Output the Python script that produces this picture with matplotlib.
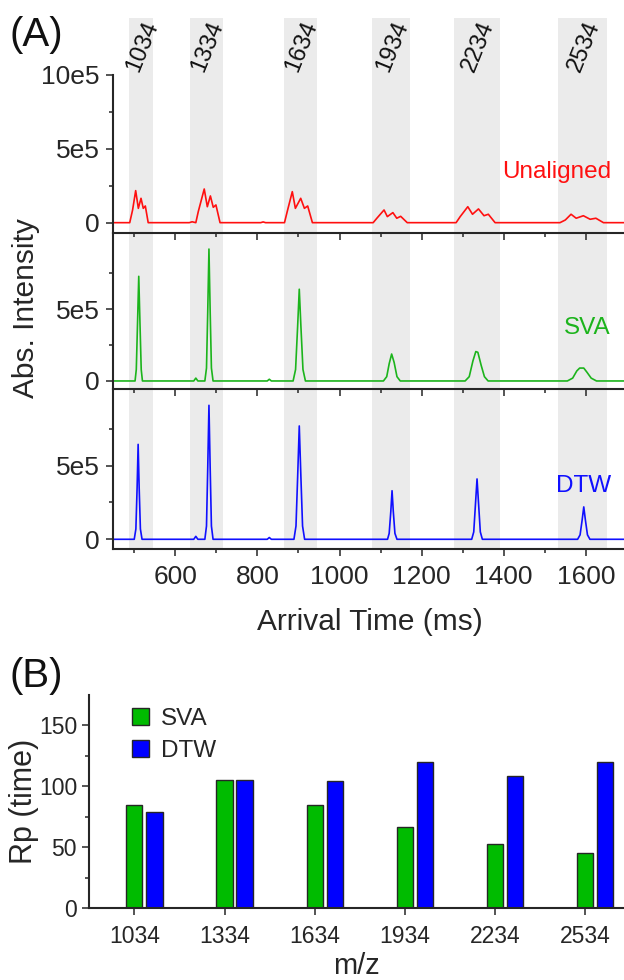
import numpy as np
import matplotlib
matplotlib.use('Agg')
from matplotlib import pyplot as plt
from matplotlib.ticker import FixedLocator

plt.rcParams['font.family'] = ['Liberation Sans', 'DejaVu Sans']

# ---- data (panel A: intensity in units of 1e5) ----
mz = ['1034', '1334', '1634', '1934', '2234', '2534']
bands = [(488, 546), (636, 717), (866, 945), (1079, 1172), (1280, 1391), (1533, 1651)]

red_t = [449, 489, 496, 503.5, 510, 516.5, 522, 527, 534,
         634, 641, 650, 656, 670.5, 678, 685.5, 692.5, 699, 709,
         808, 814, 820,
         866, 873, 885, 892.5, 905.5, 914.5, 922.5, 934,
         1082, 1091, 1108.5, 1116.5, 1130, 1139.5, 1149, 1165,
         1284, 1294, 1312.5, 1324, 1338.5, 1352, 1362.5, 1379,
         1537, 1550, 1564, 1576.5, 1594, 1610.5, 1624.5, 1643, 1693]
red_i = [0, 0, 0.86, 2.17, 0.97, 1.65, 0.97, 1.13, 0,
         0, 0.06, 0, 0.75, 2.28, 1.08, 1.81, 1.04, 1.2, 0,
         0, 0.05, 0,
         0, 0.79, 2.1, 0.97, 1.65, 0.97, 1.13, 0,
         0, 0.3, 0.86, 0.41, 0.68, 0.3, 0.43, 0,
         0, 0.41, 1.08, 0.57, 0.93, 0.47, 0.57, 0,
         0, 0.18, 0.57, 0.3, 0.47, 0.23, 0.3, 0, 0]

sva_t = [449, 502, 505, 508, 511, 514, 517, 520,
         645, 650, 655,
         672, 676, 679, 682, 685, 688, 692,
         824, 829, 834,
         887, 893, 898, 902, 906, 911, 917,
         1107, 1115, 1121, 1127, 1133, 1140, 1148,
         1306, 1316, 1325, 1332, 1337, 1345, 1353, 1362,
         1555, 1568, 1578, 1585, 1595, 1603, 1613, 1626, 1693]
sva_i = [0, 0, 0.8, 4.0, 7.3, 4.0, 0.8, 0,
         0, 0.2, 0,
         0, 0.9, 4.8, 9.2, 4.8, 0.9, 0,
         0, 0.12, 0,
         0, 0.8, 3.8, 6.4, 3.8, 0.8, 0,
         0, 0.3, 1.2, 1.88, 1.3, 0.3, 0,
         0, 0.3, 1.4, 2.05, 2.0, 1.1, 0.3, 0,
         0, 0.2, 0.7, 0.9, 0.9, 0.6, 0.2, 0, 0]

dtw_t = [449, 500, 504, 507, 509.5, 512, 515, 519,
         645, 650, 655,
         672, 676, 679, 682, 685, 688, 692,
         824, 829, 834,
         889, 894, 898, 902, 906, 910, 915,
         1117, 1121, 1125, 1128, 1131, 1135, 1140,
         1322, 1327, 1331, 1335, 1339, 1343, 1348,
         1580, 1586, 1591, 1595, 1599, 1604, 1610, 1693]
dtw_i = [0, 0, 0.7, 3.5, 6.45, 3.5, 0.7, 0,
         0, 0.2, 0,
         0, 0.9, 4.8, 9.1, 4.8, 0.9, 0,
         0, 0.12, 0,
         0, 0.9, 4.2, 7.7, 4.2, 0.9, 0,
         0, 0.4, 1.9, 3.3, 1.9, 0.4, 0,
         0, 0.5, 2.3, 4.1, 2.3, 0.5, 0,
         0, 0.3, 1.3, 2.2, 1.3, 0.3, 0, 0]

# ---- data (panel B) ----
sva_rp = [84.6, 105.4, 84.8, 66.4, 52.7, 45.6]
dtw_rp = [79.1, 105.4, 104.1, 120, 108.7, 120]

RED, GREEN, BLUE = '#ff1010', '#1cb41c', '#1010ff'
DARK = '#262626'
W, H = 624, 980
X0, X1 = 449, 1693


def rect(l, t, r, b):
  return [l / W, 1 - b / H, (r - l) / W, (b - t) / H]


def style(ax, size, ypad):
  for s in ['top', 'right']:
    ax.spines[s].set_visible(False)
  for s in ['left', 'bottom']:
    ax.spines[s].set_linewidth(1.5)
    ax.spines[s].set_color(DARK)
  ax.tick_params(which='both', direction='out', width=1.1, color=DARK,
                 labelcolor=DARK, labelsize=size)
  ax.tick_params(which='major', length=4.8)
  ax.tick_params(which='minor', length=3)
  ax.tick_params(axis='y', pad=ypad)
  ax.tick_params(axis='x', pad=7)


fig = plt.figure(figsize=(W / 100, H / 100), dpi=100)

# gray bands behind the three traces
bg = fig.add_axes(rect(113.3, 18, 624, 549), zorder=0)
bg.set_xlim(X0, X1)
bg.set_ylim(0, 1)
bg.axis('off')
for (lo, hi), lab in zip(bands, mz):
  bg.axvspan(lo, hi, color='#ebebeb', lw=0)
  bg.text((lo + hi) / 2 + 3, 0.946, lab, rotation=68, ha='center', va='center',
          fontsize=17, color='#111111')

panels = [
  (rect(113.3, 75, 624, 233.3), (-0.72, 10), red_t, red_i, RED, 'Unaligned', 172),
  (rect(113.3, 233.3, 624, 389), (-0.56, 10.3), sva_t, sva_i, GREEN, 'SVA', 328),
  (rect(113.3, 389, 624, 549), (-0.66, 10.21), dtw_t, dtw_i, BLUE, 'DTW', 486),
]
for k, (pos, ylim, t, y, col, name, ty) in enumerate(panels):
  ax = fig.add_axes(pos, zorder=1)
  ax.set_facecolor('none')
  ax.plot(t, np.array(y) * 1e5, color=col, lw=1.2)
  ax.set_xlim(X0, X1)
  ax.set_ylim(ylim[0] * 1e5, ylim[1] * 1e5)
  style(ax, 19, 5)
  if k == 0:
    ax.set_yticks([0, 5e5, 10e5])
    ax.set_yticklabels(['0', '5e5', '10e5'])
  else:
    ax.set_yticks([0, 5e5])
    ax.set_yticklabels(['0', '5e5'])
  ax.yaxis.set_minor_locator(FixedLocator([2.5e5, 7.5e5]))
  ax.set_xticks([600, 800, 1000, 1200, 1400, 1600])
  ax.xaxis.set_minor_locator(FixedLocator([500, 700, 900, 1100, 1300, 1500]))
  if k < 2:
    ax.tick_params(axis='x', labelbottom=False)
  fig.text(611 / W, 1 - ty / H, name, ha='right', va='center', color=col, fontsize=17.5)

fig.text(26 / W, 1 - 308 / H, 'Abs. Intensity', rotation=90, ha='center', va='center',
         fontsize=21.5, color=DARK)
fig.text(370 / W, 1 - 622 / H, 'Arrival Time (ms)', ha='center', va='center',
         fontsize=21.5, color=DARK)
fig.text(9 / W, 1 - 35 / H, '(A)', ha='left', va='center', fontsize=29, color='#111111')
fig.text(9 / W, 1 - 676 / H, '(B)', ha='left', va='center', fontsize=29, color='#111111')

# ---- panel B ----
axb = fig.add_axes(rect(89.3, 695, 624, 908.3))
x = np.arange(len(mz))
axb.bar(x, sva_rp, width=0.18, color='#00bb00', edgecolor=DARK, lw=1, label='SVA')
axb.bar(x + 0.222, dtw_rp, width=0.18, color='#0000ff', edgecolor=DARK, lw=1, label='DTW')
axb.set_xlim(-0.5, 5.43)
axb.set_ylim(0, 175)
style(axb, 16.5, 4)
axb.set_xticks(x)
axb.set_xticklabels(mz)
axb.set_yticks([0, 50, 100, 150])
axb.yaxis.set_minor_locator(FixedLocator([25, 75, 125]))
axb.legend(loc='upper left', bbox_to_anchor=(0.079, 0.94), frameon=False, fontsize=17.5,
           handlelength=0.7, handleheight=0.7, handletextpad=0.5, labelspacing=0.4,
           borderaxespad=0, borderpad=0, labelcolor=DARK)
fig.text(24 / W, 1 - 801 / H, 'Rp (time)', rotation=90, ha='center', va='center',
         fontsize=22, color=DARK)
fig.text(356.6 / W, 1 - 966 / H, 'm/z', ha='center', va='center', fontsize=21, color=DARK)

fig.savefig('out.png', dpi=100)
